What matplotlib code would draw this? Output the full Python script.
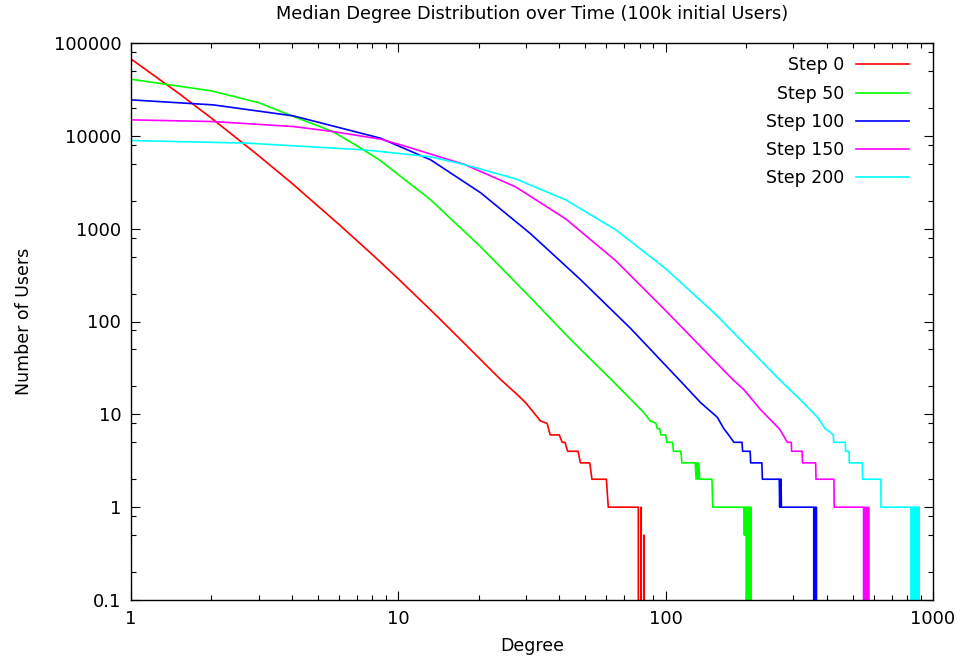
import matplotlib
matplotlib.use("Agg")
import matplotlib.pyplot as plt
from matplotlib.ticker import FixedLocator, FixedFormatter, NullFormatter

# values (degree, median number of users)
step0_deg = [1, 1.5, 2, 3, 4, 6, 8, 10, 14, 18, 24.1, 27.8, 29.9, 34, 36, 37,
             40, 41, 42, 43, 47, 48, 52, 53, 60, 61, 79, 80, 81, 82, 83, 84]
step0_users = [67300, 29060, 15500, 6120, 3080, 1110, 525, 288, 113, 55, 23.8, 16.4, 13.4, 8.5, 8, 6,
               6, 5, 5, 4, 4, 3, 3, 2, 2, 1, 1, 0, 1, 0, 0.5, 0]

step50_deg = [1, 2, 3, 4, 5.7, 7.4, 8.56, 13.2, 20.3, 31.2, 44.1, 62.5, 76.1, 82.7, 87.6, 92, 93, 95,
              96, 100, 101, 106, 107, 114, 115, 129, 130, 131, 132, 133, 134, 149, 150, 196, 197,
              198, 199, 200, 201, 202, 203, 204, 205, 206, 207, 208, 209]
step50_users = [40700, 30500, 22800, 16400, 11100, 7080, 5420, 2050, 640, 181, 64, 23.8, 13.4, 10.5, 8.5, 8, 7, 7,
                6, 6, 5, 5, 4, 4, 3, 3, 2, 3, 2, 3, 2, 2, 1, 1, 0.5,
                1, 0.5, 1, 0, 1, 0, 1, 0, 1, 0, 1, 0]

step100_deg = [1, 2.03, 4.05, 8.56, 13.2, 20.3, 31.2, 48, 74, 112, 135, 156, 165, 172, 180, 193, 194,
               207, 208, 229, 230, 266, 267, 268, 269, 270, 271, 358, 360, 362, 364, 366, 368, 369]
step100_users = [24400, 21550, 16400, 9450, 5520, 2440, 884, 283, 84, 23.8, 13.4, 9.3, 7, 6, 5, 5, 4,
                 4, 3, 3, 2, 2, 1, 2, 1, 2, 1, 1, 0, 1, 0, 1, 0, 0]

step150_deg = [1, 2.03, 4.05, 5.7, 8.56, 10.2, 17.8, 27.4, 42.2, 65, 100, 178, 196, 226, 266, 275,
               285, 295, 296, 324, 325, 364, 365, 426, 427, 550, 554, 558, 562, 566, 570, 574, 576]
step150_users = [14860, 14250, 12590, 11120, 9220, 8000, 4880, 2830, 1280, 453, 131, 23.8, 18.5, 11.3, 7, 6,
                 5, 5, 4, 4, 3, 3, 2, 2, 1, 1, 0, 1, 0, 1, 0, 1, 0]

step200_deg = [1, 2.71, 7.4, 8.56, 13.2, 17.8, 27.4, 42.2, 65, 100, 154, 266, 318, 370, 395, 410,
               424, 425, 470, 471, 485, 486, 544, 545, 638, 639, 827, 831, 835, 839, 843, 847,
               851, 855, 859, 863, 867, 871, 875, 879, 883, 887, 889]
step200_users = [8900, 8350, 7070, 6780, 5940, 4880, 3450, 2050, 975, 371, 119, 23.8, 14.5, 9.3, 7, 6.5,
                 6, 5, 5, 4, 4, 3, 3, 2, 2, 1, 1, 0, 1, 0, 1, 0,
                 1, 0, 1, 0, 1, 0, 1, 0, 1, 1, 0]

series_labels = ["Step 0", "Step 50", "Step 100", "Step 150", "Step 200"]
series_colors = ["#ff0000", "#00ff00", "#0000ff", "#ff00ff", "#00ffff"]

x_ticks = [1, 10, 100, 1000]
x_tick_labels = ["1", "10", "100", "1000"]
y_ticks = [0.1, 1, 10, 100, 1000, 10000, 100000]
y_tick_labels = ["0.1", "1", "10", "100", "1000", "10000", "100000"]

plt.rcParams['font.family'] = ['DejaVu Sans']

fig = plt.figure(figsize=(9.67, 6.6), dpi=100)
ax = fig.add_axes([131 / 967, 60 / 660, 802 / 967, 557 / 660])

data = [(step0_deg, step0_users), (step50_deg, step50_users), (step100_deg, step100_users),
        (step150_deg, step150_users), (step200_deg, step200_users)]
for (deg, users), label, color in zip(data, series_labels, series_colors):
    ax.plot(deg, users, color=color, linewidth=1.2, label=label)

ax.set_xscale('log', nonpositive='clip')
ax.set_yscale('log', nonpositive='clip')
ax.set_xlim(1, 1000)
ax.set_ylim(0.1, 100000)

ax.xaxis.set_major_locator(FixedLocator(x_ticks))
ax.xaxis.set_major_formatter(FixedFormatter(x_tick_labels))
ax.yaxis.set_major_locator(FixedLocator(y_ticks))
ax.yaxis.set_major_formatter(FixedFormatter(y_tick_labels))
x_minor = [m * 10 ** e for e in range(0, 3) for m in range(2, 10)]
y_minor = [m * 10.0 ** e for e in range(-1, 5) for m in (2, 5, 8)]
ax.xaxis.set_minor_locator(FixedLocator(x_minor))
ax.yaxis.set_minor_locator(FixedLocator(y_minor))
ax.xaxis.set_minor_formatter(NullFormatter())
ax.yaxis.set_minor_formatter(NullFormatter())

ax.tick_params(which='both', direction='in', top=True, right=True, width=0.8, labelsize=13)
ax.tick_params(which='major', length=6.5, pad=7)
ax.tick_params(which='minor', length=3.5)
for s in ax.spines.values():
    s.set_linewidth(1.0)

ax.set_title("Median Degree Distribution over Time (100k initial Users)", fontsize=12.8, pad=17)
ax.set_xlabel("Degree", fontsize=12.5, labelpad=7)
ax.set_ylabel("Number of Users", fontsize=12.5, labelpad=15)

ax.legend(loc='upper right', bbox_to_anchor=(0.970, 0.976), markerfirst=False, frameon=False,
          fontsize=12.5, handlelength=3.05, handletextpad=0.7, labelspacing=0.59,
          borderaxespad=0, borderpad=0)

fig.savefig("out.png", dpi=100)
